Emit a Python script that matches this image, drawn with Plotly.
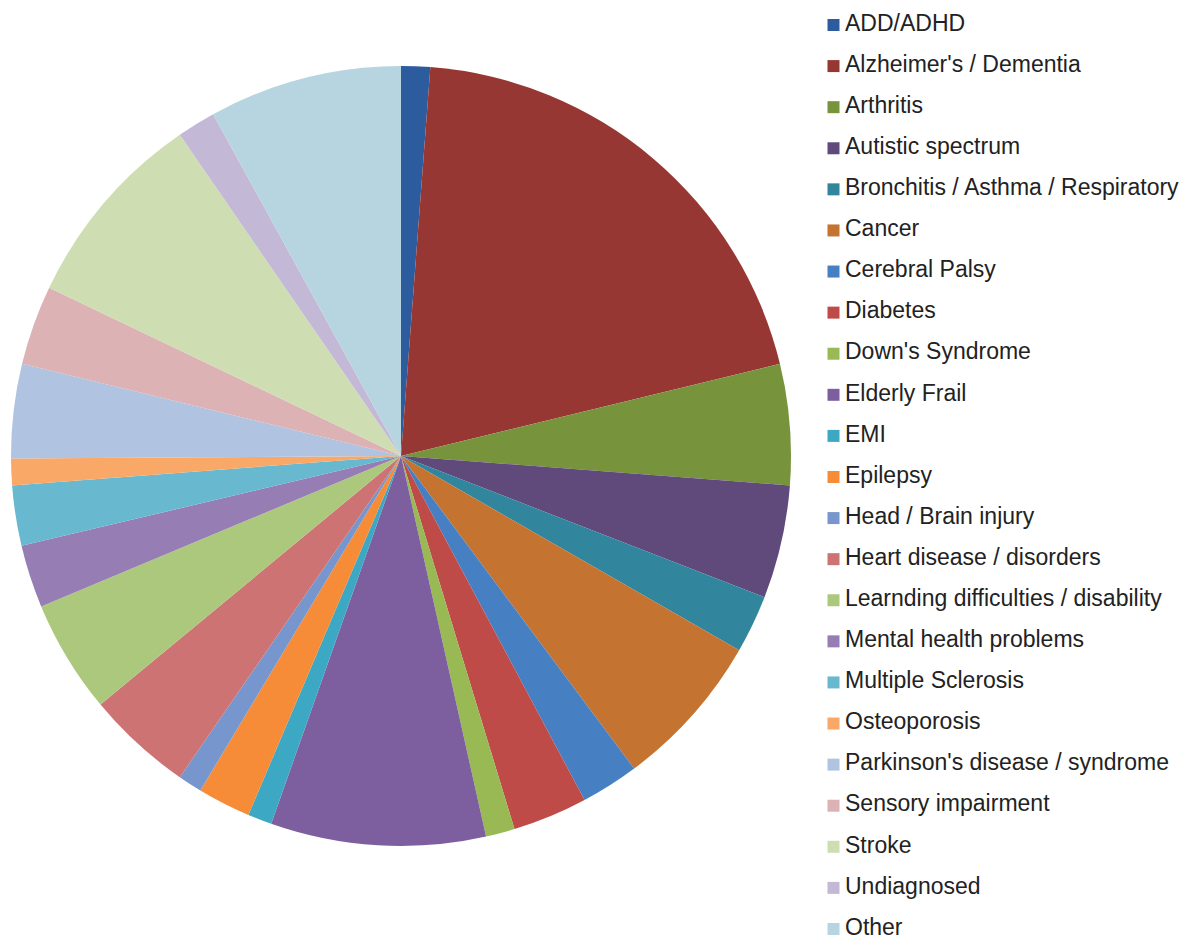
import plotly.graph_objects as go

# ---- data ----
labels = [
    "ADD/ADHD", "Alzheimer's / Dementia", "Arthritis", "Autistic spectrum",
    "Bronchitis / Asthma / Respiratory", "Cancer", "Cerebral Palsy", "Diabetes",
    "Down's Syndrome", "Elderly Frail", "EMI", "Epilepsy", "Head / Brain injury",
    "Heart disease / disorders", "Learnding difficulties / disability",
    "Mental health problems", "Multiple Sclerosis", "Osteoporosis",
    "Parkinson's disease / syndrome", "Sensory impairment", "Stroke",
    "Undiagnosed", "Other",
]
values = [1.2, 20.0, 5.0, 4.7, 2.4, 6.5, 2.4, 3.1, 1.2, 8.9, 1.0, 2.2, 1.0,
          4.4, 4.7, 2.6, 2.5, 1.1, 3.9, 3.3, 8.3, 1.6, 8.0]
colors = [
    "#2C5C9E", "#963734", "#77933C", "#604A7B", "#31859C", "#C47330",
    "#4680C2", "#BE4B48", "#98B954", "#7D5FA0", "#3CA8C3", "#F68C37",
    "#7696CD", "#CD7373", "#ACC87C", "#967DB4", "#68B8D0", "#F9A868",
    "#B0C4E2", "#DCB2B4", "#CFDDB2", "#C3B9D7", "#B7D5E0",
]

# ---- layout constants ----
W, H = 1187, 943
CX, CY, R = 401, 456, 390
LEG_LEFT = 826
MARKER_X = 7.5
TEXT_X = 19
ROW0 = 25
ROW_STEP = 41.09
FONT = "Liberation Sans, Arial, sans-serif"

fig = go.Figure()

fig.add_trace(go.Pie(
    labels=labels,
    values=values,
    marker=dict(colors=colors, line=dict(width=0)),
    sort=False,
    direction="clockwise",
    rotation=0,
    textinfo="none",
    hoverinfo="label+percent",
    showlegend=False,
    domain=dict(x=[(CX - R) / W, (CX + R) / W], y=[1 - (CY + R) / H, 1 - (CY - R) / H]),
))

# legend drawn as markers + text on a category axis
fig.add_trace(go.Scatter(
    x=[MARKER_X] * len(labels), y=labels, mode="markers",
    marker=dict(symbol="square", size=12, color=colors, line=dict(width=0)),
    showlegend=False, hoverinfo="skip", cliponaxis=False,
))
fig.add_trace(go.Scatter(
    x=[TEXT_X] * len(labels), y=labels, mode="text", text=labels,
    textposition="middle right",
    textfont=dict(family=FONT, size=23, color="#222222"),
    showlegend=False, hoverinfo="skip", cliponaxis=False,
))

top = -ROW0 / ROW_STEP
bottom = top + H / ROW_STEP
fig.update_layout(
    width=W, height=H,
    margin=dict(l=0, r=0, t=0, b=0),
    paper_bgcolor="white", plot_bgcolor="rgba(0,0,0,0)",
    showlegend=False,
    xaxis=dict(domain=[LEG_LEFT / W, 1], range=[0, W - LEG_LEFT], visible=False, fixedrange=True),
    yaxis=dict(domain=[0, 1], type="category", categoryorder="array", categoryarray=labels,
               range=[bottom, top], visible=False, fixedrange=True),
    font=dict(family=FONT),
)

fig.write_html("out.html")
